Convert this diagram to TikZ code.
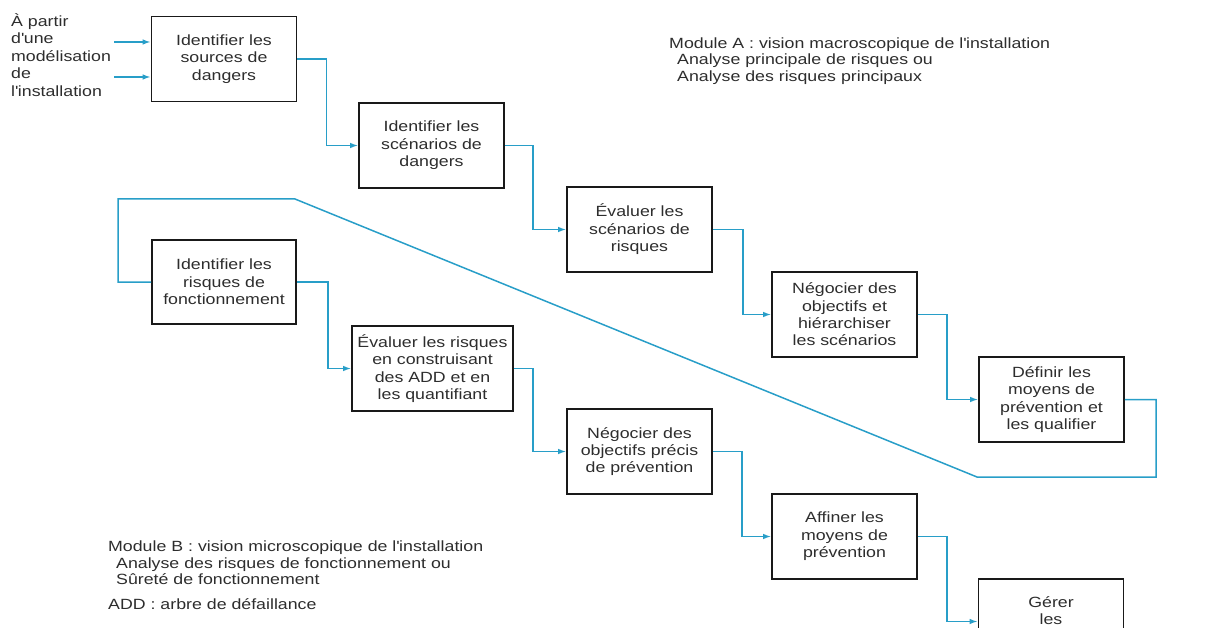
\documentclass[tikz,border=0pt]{standalone}
\usepackage{fontspec}
\setmainfont[FakeStretch=1.2]{Liberation Sans}
\usetikzlibrary{arrows.meta,calc}
\definecolor{flow}{RGB}{40,158,200}
\definecolor{ink}{RGB}{45,45,45}
\definecolor{frame}{RGB}{25,25,25}
\newcommand{\apos}{\textquotesingle}
\begin{document}
\begin{tikzpicture}[x=1pt,y=-1pt,
  stepbox/.style={draw=frame,line width=1.6pt,minimum width=145pt,minimum height=85pt,
    inner sep=2pt,align=center,text=ink,font=\fontsize{14.8}{17.4}\selectfont},
  txt/.style={text=ink,align=left,inner sep=0pt,font=\fontsize{14.8}{16.5}\selectfont},
  conn/.style={draw=flow,line width=1.5pt},
  arr/.style={conn,-{Latex[length=8pt,width=5.5pt]}}]
\useasboundingbox (0,0) rectangle (1206,628);
\clip (0,0) rectangle (1206,628);

% upper chain: module A
\node[stepbox] (B1) at (224,59) {Identifier les\\sources de\\dangers};
\node[stepbox] (B2) at (431.5,145.5) {Identifier les\\scénarios de\\dangers};
\node[stepbox] (B3) at (639.5,229.5) {Évaluer les\\scénarios de\\risques};
\node[stepbox] (B4) at (844.5,314.5) {Négocier des\\objectifs et\\hiérarchiser\\les scénarios};
\node[stepbox] (B5) at (1051.5,399.5) {Définir les\\moyens de\\prévention et\\les qualifier};

% lower chain: module B
\node[stepbox,minimum width=144pt,minimum height=84pt] (B6) at (224,282) {Identifier les\\risques de\\fonctionnement};
\node[stepbox,minimum width=161pt] (B7) at (432.5,368.5) {Évaluer les risques\\en construisant\\des ADD et en\\les quantifiant};
\node[stepbox] (B8) at (639.5,451.5) {Négocier des\\objectifs précis\\de prévention};
\node[stepbox] (B9) at (844.5,536.5) {Affiner les\\moyens de\\prévention};
\node[stepbox] (B10) at (1051,621.5) {};
\node[txt,align=center,font=\fontsize{14.8}{17}\selectfont] (B10t) at (1051,611) {Gérer\\les};

% inputs
\node[txt,anchor=west,font=\fontsize{14.8}{17.5}\selectfont] (src) at (11,55)
  {À partir\\d\apos une\\modélisation\\de\\l\apos installation};
\coordinate (in1) at (114,42);
\coordinate (in2) at (114,77);
\draw[arr] (in1) -- (B1.west |- in1);
\draw[arr] (in2) -- (B1.west |- in2);

% module A links
\draw[arr] (B1.east) -- ++(29,0) |- (B2.west);
\draw[arr] (B2.east) -- ++(28,0) |- (B3.west);
\draw[arr] (B3.east) -- ++(30,0) |- (B4.west);
\draw[arr] (B4.east) -- ++(29,0) |- (B5.west);

% return from module A to module B
\coordinate (r1) at (1156,477);
\coordinate (r2) at (977,477);
\coordinate (r3) at (295,199);
\coordinate (r4) at (118,199);
\draw[conn] (B5.east) -| (r1) -- (r2) -- (r3) -- (r4) |- (B6.west);

% module B links
\draw[arr] (B6.east) -- ++(31,0) |- (B7.west);
\draw[arr] (B7.east) -- ++(19,0) |- (B8.west);
\draw[arr] (B8.east) -- ++(29,0) |- (B9.west);
\draw[arr] (B9.east) -- ++(29,0) |- (B10.west);

% notes
\node[txt,anchor=west] (modA) at (669,61)
  {Module A : vision macroscopique de l\apos installation\\
   \hspace*{8pt}Analyse principale de risques ou\\
   \hspace*{8pt}Analyse des risques principaux};
\node[txt,anchor=west] (modB) at (108,563)
  {Module B : vision microscopique de l\apos installation\\
   \hspace*{8pt}Analyse des risques de fonctionnement ou\\
   \hspace*{8pt}Sûreté de fonctionnement};
\node[txt,anchor=west] (add) at (108,604) {ADD : arbre de défaillance};
\end{tikzpicture}
\end{document}
